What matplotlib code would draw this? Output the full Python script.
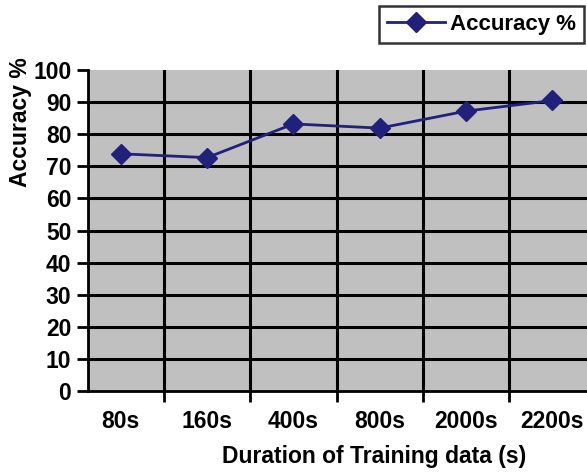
import matplotlib
matplotlib.use("Agg")
import matplotlib.pyplot as plt
from matplotlib.lines import Line2D
import numpy as np

plt.rcParams['font.family'] = ['Liberation Sans', 'DejaVu Sans']
plt.rcParams['font.weight'] = 'bold'

durations = ["80s", "160s", "400s", "800s", "2000s", "2200s"]
accuracy = [73.9, 72.7, 83.2, 81.9, 87.2, 90.5]
y_ticks = [0, 10, 20, 30, 40, 50, 60, 70, 80, 90, 100]

line_color = "#20217a"
W, H = 587, 472

fig = plt.figure(figsize=(W / 100, H / 100), dpi=100)
ax = fig.add_axes([88 / W, (H - 391) / H, (W - 88) / W, (391 - 70) / H])
ax.set_facecolor("#c0c0c0")

x = np.arange(len(durations))
ax.plot(x, accuracy, color=line_color, linewidth=2.0, marker='D',
        markersize=10, markerfacecolor=line_color, markeredgecolor=line_color,
        zorder=5, clip_on=False)

ax.set_xlim(-0.38, 5.40)
ax.set_ylim(0, 100)

# labels at category centres, tick marks at category boundaries
ax.set_xticks(x)
ax.set_xticklabels(durations, fontsize=16.5, fontweight='bold')
ax.set_xticks(x[:-1] + 0.5, minor=True)
ax.tick_params(axis='x', which='major', length=0, pad=14)
ax.tick_params(axis='x', which='minor', length=8, width=2, color='black', direction='out')

ax.set_yticks(y_ticks)
ax.set_yticklabels([str(v) for v in y_ticks], fontsize=16.5, fontweight='bold')
ax.tick_params(axis='y', length=8, width=2, direction='out', pad=4)

for v in y_ticks[1:-1]:
    ax.axhline(v, color='black', linewidth=2.2, zorder=1)
for b in x[:-1] + 0.5:
    ax.axvline(b, color='black', linewidth=2.2, zorder=1)

for side in ['top', 'right']:
    ax.spines[side].set_visible(False)
ax.spines['left'].set_linewidth(2)
ax.spines['bottom'].set_linewidth(2)

fig.text(21 / W, 1 - 122 / H, "Accuracy %", rotation=90, ha='center', va='center',
         fontsize=16.5, fontweight='bold')
fig.text(374 / W, 1 - 457 / H, "Duration of Training data (s)", ha='center', va='center',
         fontsize=16.5, fontweight='bold')

handle = Line2D([], [], color=line_color, linewidth=2.0, marker='D', markersize=10)
leg = fig.legend([handle], ["Accuracy %"], loc='upper right',
                 bbox_to_anchor=(584 / W, 1 - 6 / H), frameon=True, fancybox=False,
                 edgecolor='black', borderaxespad=0, handlelength=2.6,
                 handletextpad=0.25, borderpad=0.35,
                 prop={'size': 16, 'weight': 'bold'})
leg.get_frame().set_linewidth(1.8)

fig.savefig("out.png", dpi=100)
